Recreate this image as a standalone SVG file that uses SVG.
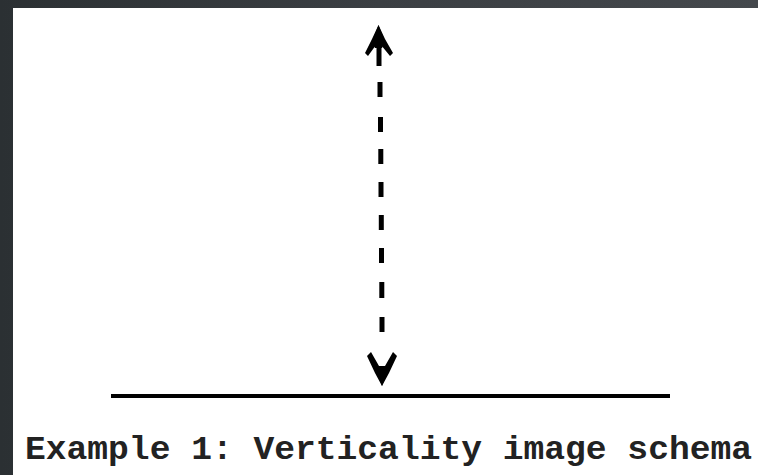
<svg xmlns="http://www.w3.org/2000/svg" width="758" height="475" viewBox="0 0 758 475">
  <defs>
    <linearGradient id="bg" x1="0" y1="0" x2="1" y2="0">
      <stop offset="0" stop-color="#2b3033"/>
      <stop offset="0.5" stop-color="#3b3f43"/>
      <stop offset="1" stop-color="#44484c"/>
    </linearGradient>
  </defs>
  <style>
    .ink { stroke: #000; fill: none; stroke-linecap: butt; }
    .lbl { font-family: "Liberation Mono", "Courier New", monospace; font-weight: bold; font-size: 33px; fill: #222; }
  </style>
  <rect x="0" y="0" width="758" height="475" fill="url(#bg)"/>
  <rect x="13" y="8" width="745" height="467" fill="#ffffff"/>
  <g id="connectors">
    <g id="top-arrow">
      <line class="ink" x1="379" y1="34" x2="379" y2="66" stroke-width="5"/>
      <path d="M378.5,25 L372,39 L365,53 L368,56 L376,45 L381,45 L390,56 L393,53 L385,39 Z" fill="#000"/>
      <path d="M372,42 L378.5,25 L385,42 L382,48 L375,48 Z" fill="#000"/>
    </g>
    <path class="ink" stroke-width="5" d="M380,82 L380,97 M380.5,117 L380.5,132 M380.8,149 L380.8,164 M381,182 L381,197 M381.3,215 L381.3,230 M381.5,248 L381.5,263 M381.8,282 L381.8,298 M382,317 L382,332"/>
    <g id="bottom-arrow">
      <path d="M367,356 L371,352 L379,366 L385,366 L393,352 L397,356 L389,373 L382,386 L375,373 Z" fill="#000"/>
      <path d="M376,366 L388,366 L385,378 L382,386 L379,378 Z" fill="#000"/>
    </g>
  </g>
  <g id="ground">
    <line class="ink" x1="111" y1="396" x2="670" y2="396" stroke-width="4"/>
  </g>
  <g id="caption">
    <text class="lbl" x="25" y="459" textLength="727" lengthAdjust="spacingAndGlyphs">Example 1: Verticality image schema</text>
  </g>
</svg>
